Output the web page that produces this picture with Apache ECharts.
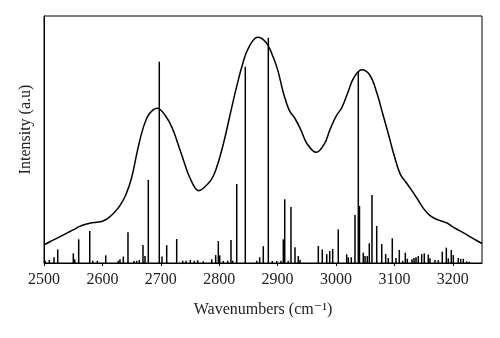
<!DOCTYPE html>
<html>
<head>
<meta charset="utf-8">
<script src="https://cdn.jsdelivr.net/npm/echarts@6/dist/echarts.min.js"></script>
<style>html,body{margin:0;padding:0;background:#fff}#c{width:500px;height:338px}</style>
</head>
<body>
<div id="c"></div>
<script>
// Experimental (broadened) spectrum
const curveX = [2500,2510,2520,2530,2540,2550,2560,2570,2580,2590,2600,2610,2620,2630,2640,2650,2660,2670,2680,2694,2708,2720,2730,2740,2750,2765,2780,2790,2800,2810,2820,2830,2840,2850,2866,2880,2890,2900,2910,2920,2930,2940,2950,2966,2980,2990,3000,3010,3020,3030,3044,3058,3070,3080,3090,3100,3110,3120,3130,3140,3150,3160,3170,3180,3190,3200,3210,3220,3230,3240,3250];
const curveY = [7.3,8.6,9.8,11.0,12.2,13.4,14.7,15.6,16.2,16.5,16.9,18.2,20.3,23.2,27.5,34.5,45.5,54.8,60.3,62.7,59.6,54.4,47.8,40.8,34.4,29.3,31.9,35.2,42.0,51.0,61.5,71.5,80.5,87.0,91.4,89.4,84.8,78.3,68.8,61.8,58.4,53.8,48.5,44.8,48.2,54.2,59.4,62.9,68.8,74.8,78.2,76.0,68.8,60.4,51.9,43.2,36.0,32.6,29.3,25.7,22.0,19.4,17.9,17.0,16.2,14.6,13.3,12.0,10.6,9.2,7.9];
// Calculated stick spectrum
const stickX = [2502.2,2509.1,2517.1,2523.5,2550.2,2552.6,2559.4,2578.3,2583.4,2591.3,2605.7,2627.2,2630.1,2635.8,2643.8,2654.1,2658.7,2663.2,2669.5,2672.9,2678.6,2697.4,2702.1,2710.1,2727.2,2737.5,2743.2,2750.5,2757.4,2763.2,2772.8,2787.2,2794.0,2798.5,2800.9,2807.0,2814.6,2820.2,2823.1,2830.0,2844.7,2864.2,2869.3,2875.5,2884.1,2890.9,2898.5,2905.8,2909.8,2912.2,2918.3,2922.9,2929.8,2935.4,2938.4,2969.7,2976.5,2984.1,2989.2,2994.3,3003.9,3018.3,3021.1,3026.2,3032.5,3038.2,3040.2,3046.7,3049.7,3053.6,3057.0,3061.6,3069.7,3078.3,3085.1,3089.6,3096.4,3102.7,3108.4,3114.2,3118.7,3122.1,3130.1,3133.6,3137.0,3140.9,3146.7,3151.2,3158.0,3160.9,3169.5,3175.2,3182.0,3188.9,3192.3,3197.4,3200.9,3209.4,3213.5,3218.0,3223.8,3228.0];
const stickY = [0.9,1.2,2.3,5.5,3.9,1.5,9.6,13.0,0.9,0.9,3.1,0.9,1.5,2.6,12.4,0.8,0.9,1.2,7.3,2.8,33.6,81.5,2.6,7.2,9.7,0.9,0.9,1.2,0.9,1.1,0.7,1.5,3.2,8.9,3.1,0.8,0.9,9.3,0.9,32.0,79.5,0.9,2.3,6.8,91.2,0.8,0.8,0.9,9.6,25.8,0.9,22.7,6.4,2.8,1.3,6.9,5.5,3.6,4.9,5.7,13.6,3.5,2.3,2.3,19.4,77.4,23.1,4.2,2.8,2.8,8.0,27.5,15.0,7.7,3.6,2.0,10.0,2.0,5.3,0.9,4.2,1.7,1.5,2.0,2.3,2.8,3.6,3.9,3.4,1.9,1.2,1.2,4.6,6.2,1.9,5.3,3.2,2.0,1.7,1.7,0.7,0.5];
const xTicks = {min: 2500, max: 3250, step: 100};

const curveData = curveX.map((x, i) => [x, curveY[i]]);
const stickData = stickX.map((x, i) => [x, stickY[i]]);

const chart = echarts.init(document.getElementById('c'), null, {renderer: 'canvas'});
const serif = '"Liberation Serif", "DejaVu Serif", serif';
chart.setOption({
  animation: false,
  backgroundColor: '#fff',
  grid: {left: 44, top: 16, right: 18, bottom: 75, show: true, borderColor: '#000', borderWidth: 1},
  xAxis: {
    type: 'value', min: xTicks.min, max: xTicks.max, interval: xTicks.step,
    name: 'Wavenumbers (cm\u207B\u00B9)', nameLocation: 'middle', nameGap: 39,
    nameTextStyle: {fontFamily: serif, fontSize: 16, color: '#222'},
    axisLine: {show: true, lineStyle: {color: '#000', width: 1}},
    axisTick: {show: true, length: 3, lineStyle: {color: '#000'}},
    axisLabel: {fontFamily: serif, fontSize: 16, color: '#222', margin: 9, showMaxLabel: false,
                formatter: function (v) { return String(v); }},
    splitLine: {show: false}
  },
  yAxis: {
    type: 'value', min: 0, max: 100,
    name: 'Intensity (a.u)', nameLocation: 'middle', nameGap: 10,
    nameTextStyle: {fontFamily: serif, fontSize: 16, color: '#222', padding: [0, 0, 0, 20]},
    axisLine: {show: true, lineStyle: {color: '#000', width: 1}},
    axisTick: {show: false}, axisLabel: {show: false}, splitLine: {show: false}
  },
  series: [
    {
      type: 'custom',
      data: stickData,
      renderItem: function (params, api) {
        const p0 = api.coord([api.value(0), 0]);
        const p1 = api.coord([api.value(0), api.value(1)]);
        return {type: 'line', shape: {x1: p0[0], y1: p0[1], x2: p1[0], y2: p1[1]},
                style: {stroke: '#000', lineWidth: 1.5}};
      },
      encode: {x: 0, y: 1}
    },
    {
      type: 'line', data: curveData, smooth: 0.4, showSymbol: false,
      lineStyle: {color: '#000', width: 1.5}
    }
  ]
});
</script>
</body>
</html>
